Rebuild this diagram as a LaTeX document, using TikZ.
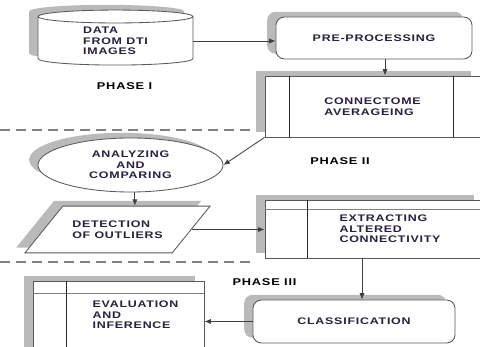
\documentclass[tikz,border=0pt]{standalone}
\usepackage{fontspec}
\setmainfont{Liberation Sans}[FakeStretch=1.3, LetterSpace=8]
\usepackage{xcolor}
\usetikzlibrary{positioning, arrows.meta, shapes.geometric, shadows}
\definecolor{ink}{RGB}{40,32,60}

\begin{document}
\begin{tikzpicture}[
    x=0.025cm, y=-0.025cm,
    font=\fontsize{6.8}{7.6}\selectfont\bfseries,
    shade/.style={general shadow={fill=black!27, shadow xshift=-0.22cm, shadow yshift=0.13cm}},
    box/.style={draw=black!65, fill=white, shade, line width=0.6pt, inner sep=0pt, text=ink, align=left},
    rbox/.style={box, rounded corners=6pt, align=center},
    txt/.style={text=ink, align=left, inner sep=0pt},
    bar/.style={black!85, line width=0.9pt},
    rule/.style={black!50, line width=0.5pt},
    arr/.style={-{Latex[length=1.6mm, width=1.3mm]}, line width=0.6pt, black!75},
    sep/.style={black!50, line width=1.2pt, dash pattern=on 0.25cm off 0.15cm},
    phase/.style={font=\fontsize{7}{8}\selectfont\bfseries, text=black, inner sep=0pt}]
    \useasboundingbox (0,0) rectangle (480,347);

    % phase I
    \node[box, cylinder, shape border rotate=90, aspect=0.2,
      minimum width=3.875cm, minimum height=1.375cm] (data) at (115.5,41) {DATA\\FROM DTI\\IMAGES};
    \node[rbox, minimum width=4.9cm, minimum height=1.05cm] (pre) at (374,38) {PRE-PROCESSING};
    \node[box, minimum width=5.375cm, minimum height=1.525cm] (conn) at (372.5,106.5) {CONNECTOME\\AVERAGEING};
    \draw[bar] ([xshift=0.625cm]conn.north west) -- ([xshift=0.625cm]conn.south west);
    \draw[bar] ([xshift=-0.675cm]conn.north east) -- ([xshift=-0.675cm]conn.south east);
    \node[phase] (ph1) at (124.5,86) {PHASE I};

    \draw[sep] (0,130) -- (255,130);

    % phase II
    \node[box, ellipse, align=center, minimum width=4.625cm, minimum height=1.35cm] (ana) at (130.5,165)
      {ANALYZING\\AND\\COMPARING};
    \node[box, trapezium, trapezium left angle=51, trapezium right angle=129, trapezium stretches body=true,
      inner ysep=0.365cm, minimum width=4.625cm] (det) at (117.5,229.5) {DETECTION\\OF OUTLIERS};
    \node[box, minimum width=5.45cm, minimum height=1.45cm] (ext) at (374,229) {};
    \draw[rule] ([yshift=-0.25cm]ext.north west) -- ([yshift=-0.25cm]ext.north east);
    \draw[bar] ([xshift=1.075cm]ext.north west) -- ([xshift=1.075cm]ext.south west);
    \node[txt] (ext-t) at (390,229) {EXTRACTING\\ALTERED\\CONNECTIVITY};
    \node[phase] (ph2) at (340,161) {PHASE II};

    \draw[sep] (0,262) -- (255,262);

    % phase III
    \node[rbox, minimum width=5.05cm, minimum height=1.075cm] (cls) at (354,321.5) {CLASSIFICATION};
    \node[box, minimum width=4.275cm, minimum height=1.875cm] (eval) at (118.5,318.5) {};
    \draw[rule] ([yshift=-0.325cm]eval.north west) -- ([yshift=-0.325cm]eval.north east);
    \draw[bar] ([xshift=0.85cm]eval.north west) -- ([xshift=0.85cm]eval.south west);
    \node[txt] (eval-t) at (135.5,315) {EVALUATION\\AND\\INFERENCE};
    \node[phase] (ph3) at (264.5,282) {PHASE III};

    \draw[arr] (data.east) -- (data.east -| pre.west);
    \draw[arr] ([xshift=0.275cm]pre.south) -- ([xshift=0.275cm]pre.south |- conn.north);
    \draw[arr] (conn.south west) -- (ana.east);
    \draw[arr] ([xshift=0.11cm]ana.south) -- ([xshift=0.11cm]ana.south |- det.north);
    \draw[arr] (det.east) -- (det.east -| ext.west);
    \draw[arr] ([xshift=-0.3cm]ext.south) -- ([xshift=-0.3cm]ext.south |- cls.north);
    \draw[arr] (cls.west) -- (cls.west -| eval.east);
\end{tikzpicture}
\end{document}
